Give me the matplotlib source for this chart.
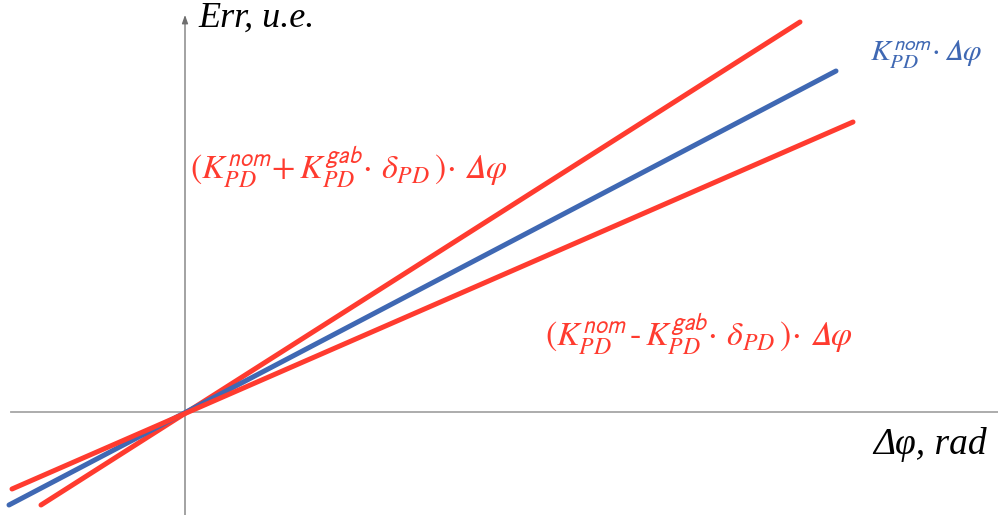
import matplotlib
matplotlib.use("Agg")
import matplotlib.pyplot as plt

# Data (in chart units; origin at the crossing of the axes)
line_names = ["upper", "nominal", "lower"]
x_start = [-1.44, -1.76, -1.73]
y_start = [-0.93, -0.93, -0.77]
x_end = [6.15, 6.51, 6.68]
y_end = [3.90, 3.41, 2.90]
line_colors = ["#FF3B2F", "#3F68B3", "#FF3B2F"]

label_upper = r"$(K_{PD}^{\mathsf{nom}}\!+ K_{PD}^{\mathsf{gab}}\!\cdot\,\delta_{PD}\,)\!\cdot\,𝛥\varphi$"
label_lower = r"$(K_{PD}^{\mathsf{nom}}\,‐\,K_{PD}^{\mathsf{gab}}\!\cdot\,\delta_{PD}\,)\!\cdot\,𝛥\varphi$"
label_nom = r"$K_{PD}^{\mathsf{nom}}\!\cdot𝛥\varphi$"
y_axis_label = "Err, u.e."
x_axis_label = "Δφ, rad"

plt.rcParams["mathtext.fontset"] = "stix"

fig = plt.figure(figsize=(9.98, 5.15), dpi=100)
ax = fig.add_axes([0, 0, 1, 1])
ax.set_xlim(-1.85, 8.13)
ax.set_ylim(-1.03, 4.12)
ax.axis("off")

# axes
ax.plot([-1.74, 8.13], [0, 0], color="#A6A6A6", lw=1.3, zorder=1)
ax.annotate("", xy=(0, 3.97), xytext=(0, -1.03),
            arrowprops=dict(arrowstyle="-|>,head_length=0.5,head_width=0.18",
                            color="#6E6E6E", lw=0.9, shrinkA=0, shrinkB=0), zorder=1)

for xs, ys, xe, ye, c in zip(x_start, y_start, x_end, y_end, line_colors):
    ax.plot([xs, xe], [ys, ye], color=c, lw=3.6, solid_capstyle="round", zorder=3)

ax.text(0.05, 2.44, label_upper, color="#FF3B2F", fontsize=24.5, ha="left", va="center")
ax.text(3.60, 0.77, label_lower, color="#FF3B2F", fontsize=24.5, ha="left", va="center")
ax.text(6.85, 3.57, label_nom, color="#3F68B3", fontsize=21.5, ha="left", va="center")
ax.text(0.13, 3.94, y_axis_label, color="black", fontsize=26, ha="left", va="center",
        family="Liberation Serif", style="italic")
ax.text(6.88, -0.32, x_axis_label, color="black", fontsize=27, ha="left", va="center",
        family="Liberation Serif", style="italic")

fig.savefig("out.png", dpi=100)
